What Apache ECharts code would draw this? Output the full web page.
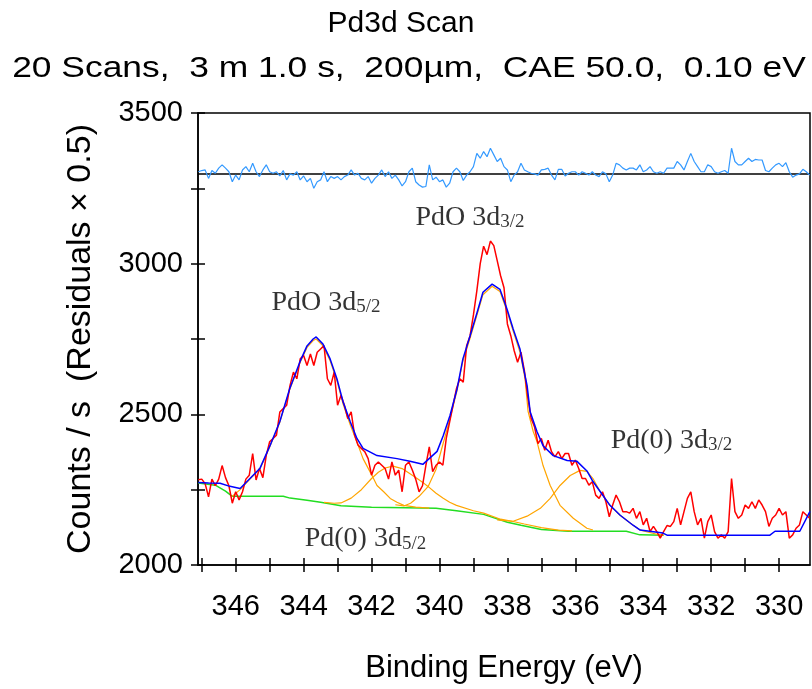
<!DOCTYPE html>
<html><head><meta charset="utf-8">
<script src="https://cdn.jsdelivr.net/npm/echarts@6/dist/echarts.min.js"></script>
<style>html,body{margin:0;padding:0;background:#fff}#c{width:812px;height:689px}</style>
</head><body><div id="c"></div>
<script>
// ---- data ----
const energyStart = 347.1;   // eV, first channel
const energyStep = 0.1;      // eV per channel (0.10 eV step)
const rawCounts = [2283,2285,2270,2226,2285,2263,2285,2330,2290,2263,
2205,2243,2216,2243,2285,2298,2370,2282,2320,2290,
2364,2409,2420,2431,2508,2519,2530,2596,2640,2618,
2684,2695,2662,2700,2662,2706,2717,2728,2618,2596,
2640,2530,2563,2530,2486,2508,2431,2398,2387,2376,
2353,2298,2331,2342,2331,2320,2285,2342,2298,2315,
2243,2331,2342,2315,2285,2243,2263,2331,2392,2310,
2331,2342,2331,2420,2475,2530,2585,2618,2607,2728,
2760,2830,2910,3000,3058,3030,3075,3060,3010,2960,
2920,2800,2761,2711,2673,2706,2645,2557,2486,2458,
2403,2420,2381,2414,2376,2359,2376,2353,2370,2370,
2331,2348,2320,2287,2287,2265,2276,2232,2221,2243,
2210,2160,2199,2232,2210,2177,2177,2172,2188,2155,
2177,2133,2155,2111,2128,2111,2089,2111,2131,2128,
2144,2188,2133,2177,2221,2243,2177,2133,2155,2089,
2144,2166,2111,2089,2100,2089,2111,2287,2177,2155,
2166,2199,2188,2210,2188,2216,2199,2177,2128,2155,
2166,2188,2166,2177,2089,2100,2122,2133,2177,2166,2155];
const residuals = [3305,3309,3311,3283,3309,3300,3317,3328,3317,3305,
3272,3294,3278,3311,3322,3305,3333,3305,3289,3311,
3328,3305,3300,3305,3291,3309,3278,3298,3294,3305,
3278,3291,3272,3283,3250,3272,3278,3305,3272,3289,
3283,3289,3278,3289,3294,3311,3294,3300,3283,3278,
3289,3267,3283,3294,3311,3289,3305,3283,3294,3278,
3258,3272,3305,3317,3272,3261,3254,3256,3328,3278,
3287,3272,3278,3254,3267,3305,3317,3305,3276,3294,
3305,3322,3366,3350,3372,3355,3383,3361,3339,3350,
3322,3311,3272,3294,3305,3333,3311,3305,3300,3298,
3294,3311,3313,3317,3294,3278,3313,3313,3291,3300,
3305,3305,3294,3305,3300,3294,3305,3294,3289,3305,
3298,3272,3294,3333,3328,3317,3311,3317,3317,3311,
3328,3305,3311,3322,3305,3300,3305,3300,3317,3317,
3317,3339,3328,3311,3339,3366,3339,3322,3305,3305,
3328,3322,3305,3300,3305,3309,3300,3383,3339,3328,
3328,3339,3350,3339,3346,3344,3344,3309,3305,3317,
3328,3333,3322,3335,3305,3287,3294,3298,3313,3305,3294];
const residualZero = 3300;
const envelope = [[347.1,2274],[346.8,2272],[346.46,2271],[346.17,2261],[345.87,2254],[345.58,2287],[345.29,2320],[344.99,2396],[344.70,2476],[344.41,2585],[344.11,2674],[343.90,2727],[343.72,2750],[343.63,2757],[343.43,2733],[343.22,2684],[343.02,2618],[342.84,2542],[342.63,2476],[342.43,2420],[342.25,2387],[341.84,2363],[341.25,2353],[340.87,2344],[340.49,2334],[340.07,2377],[339.89,2429],[339.69,2496],[339.48,2585],[339.31,2684],[339.10,2760],[338.89,2839],[338.72,2905],[338.45,2932],[338.22,2915],[338.01,2849],[337.83,2783],[337.63,2717],[337.54,2661],[337.42,2595],[337.33,2509],[337.13,2443],[336.95,2396],[336.65,2363],[336.24,2347],[335.95,2344],[335.65,2311],[335.48,2277],[335.27,2244],[334.98,2198],[334.68,2165],[334.30,2132],[334.09,2116],[333.42,2106],[333.30,2099],[330.27,2099],[330.12,2112],[329.39,2112],[329.09,2178]];
const pdo52 = [[346.1,2228],[345.87,2250],[345.58,2285],[345.29,2318],[344.99,2394],[344.70,2474],[344.41,2582],[344.11,2670],[343.90,2722],[343.72,2745],[343.63,2750],[343.43,2727],[343.22,2678],[343.02,2612],[342.84,2535],[342.63,2466],[342.43,2408],[342.25,2353],[342.0,2300],[341.84,2264],[341.65,2244],[341.45,2221],[341.25,2208],[341.05,2198],[340.7,2192],[340.3,2189]];
const pd052 = [[343.4,2208],[343.1,2205],[342.9,2206],[342.6,2222],[342.3,2250],[342.0,2287],[341.8,2308],[341.6,2322],[341.37,2328],[341.1,2320],[340.9,2305],[340.7,2290],[340.5,2275],[340.33,2260],[340.1,2238],[339.9,2222],[339.7,2208],[339.5,2198],[339.0,2180],[338.7,2172],[338.2,2152],[337.9,2146],[337.5,2136],[337.0,2124],[336.5,2116],[336.1,2113]];
const pdo32 = [[341.3,2200],[341.05,2196],[340.85,2205],[340.6,2228],[340.33,2261],[340.1,2318],[339.9,2400],[339.69,2486],[339.48,2580],[339.31,2678],[339.10,2752],[338.89,2832],[338.72,2897],[338.45,2925],[338.22,2908],[338.01,2842],[337.83,2776],[337.63,2707],[337.48,2618],[337.39,2509],[337.24,2443],[337.13,2410],[336.95,2330],[336.74,2264],[336.45,2198],[336.06,2155],[335.66,2122],[335.48,2116]];
const pd032 = [[338.3,2150],[337.83,2145],[337.42,2162],[337.03,2188],[336.74,2221],[336.45,2264],[336.15,2297],[335.86,2314],[335.66,2311],[335.48,2287],[335.27,2244],[334.98,2198],[334.68,2165],[334.30,2132],[334.09,2116],[333.6,2102],[333.4,2099]];
const background = [[347.1,2272],[346.6,2265],[346.3,2245],[346.1,2228],[344.6,2228],[344.4,2222],[343.9,2215],[343.5,2208],[342.9,2197],[342.0,2192],[341.0,2190],[340.1,2188],[339.5,2180],[338.7,2168],[338.0,2142],[337.6,2132],[337.0,2118],[336.2,2112],[334.5,2112],[334.1,2100],[333.4,2099]];
const xTickValues = [347,346,345,344,343,342,341,340,339,338,337,336,335,334,333,332,331,330];
const xLabelValues = [346,344,342,340,338,336,334,332,330];
const yLabelValues = [2000,2500,3000,3500];
const peakLabelMain = ['PdO 3d','PdO 3d','Pd(0) 3d','Pd(0) 3d'];
const peakLabelSub = ['5/2','3/2','3/2','5/2'];
const peakLabelPos = [[343.34,2872],[339.10,3153],[333.17,2413],[342.18,2086]];
const titleText = 'Pd3d Scan';
const subtitleText = '20 Scans,  3 m 1.0 s,  200\u00b5m,  CAE 50.0,  0.10 eV';

// ---- chart ----
const SANS = "'Liberation Sans', Arial, sans-serif";
const SERIF = "'Liberation Serif', 'Times New Roman', serif";
const rawData = rawCounts.map((v, i) => [+(energyStart - i * energyStep).toFixed(2), v]);
const residData = residuals.map((v, i) => [+(energyStart - i * energyStep).toFixed(2), v]);
const XMIN = 329.09, XMAX = 347.11;

const chart = echarts.init(document.getElementById('c'), null, {renderer: 'canvas'});
const lineS = (name, data, color, width, z) => ({
  name, type: 'line', data, showSymbol: false, symbol: 'none', z,
  lineStyle: {color, width}, itemStyle: {color}, silent: true, animation: false
});
const axisX = (inside) => ({
  type: 'value', min: XMIN, max: XMAX, inverse: true, gridIndex: 0, position: 'bottom',
  axisLine: {show: !inside, onZero: false, lineStyle: {color: '#000', width: 1.5}},
  axisTick: {show: true, inside, length: 7, customValues: xTickValues, lineStyle: {color: '#000', width: 1.5}},
  axisLabel: inside ? {show: false} : {show: true, customValues: xLabelValues, fontSize: 29, fontFamily: SANS, color: '#000', margin: 27, formatter: (v) => String(v)},
  splitLine: {show: false},
  name: inside ? '' : 'Binding Energy (eV)', nameLocation: 'middle', nameGap: 88,
  nameTextStyle: {fontSize: 31, fontFamily: SANS, color: '#000'}
});
const axisY = (inside) => ({
  type: 'value', min: 2000, max: 3500, interval: 250, gridIndex: 0, position: 'left',
  axisLine: {show: !inside, onZero: false, lineStyle: {color: '#000', width: 1.5}},
  axisTick: {show: true, inside, length: 7, lineStyle: {color: '#000', width: 1.5}},
  axisLabel: inside ? {show: false} : {show: true, customValues: yLabelValues, fontSize: 29, fontFamily: SANS, color: '#000', margin: 15, formatter: (v) => String(v)},
  splitLine: {show: false},
  name: inside ? '' : 'Counts / s  (Residuals \u00d7 0.5)', nameLocation: 'middle', nameGap: 100,
  nameTextStyle: {fontSize: 34, fontFamily: SANS, color: '#000'}
});

chart.setOption({
  animation: false,
  backgroundColor: '#fff',
  grid: {left: 198, top: 113, width: 612, height: 454, show: true, borderColor: '#000', borderWidth: 1.5, backgroundColor: 'transparent'},
  xAxis: [axisX(false), axisX(true)],
  yAxis: [axisY(false), axisY(true)],
  graphic: [
    {type: 'text', x: 401, y: 24, style: {text: titleText, fontSize: 30, fontFamily: SANS, fill: '#000', align: 'center', verticalAlign: 'middle'}},
    {type: 'text', x: 409, y: 69, scaleX: 1.18, style: {text: subtitleText, fontSize: 30, fontFamily: SANS, fill: '#000', align: 'center', verticalAlign: 'middle'}}
  ],
  series: [
    lineS('Background', background, '#22dd22', 1.5, 2),
    lineS('PdO 3d5/2', pdo52, '#ffa500', 1.2, 3),
    lineS('Pd(0) 3d5/2', pd052, '#ffa500', 1.2, 3),
    lineS('PdO 3d3/2', pdo32, '#ffa500', 1.2, 3),
    lineS('Pd(0) 3d3/2', pd032, '#ffa500', 1.2, 3),
    lineS('Data', rawData, '#ff0000', 1.5, 4),
    lineS('Envelope', envelope, '#0000ff', 1.5, 5),
    Object.assign(lineS('Residuals', residData, '#3399ff', 1.2, 6), {
      markLine: {silent: true, symbol: ['none', 'none'], label: {show: false}, animation: false,
        lineStyle: {color: '#000', width: 1.5, type: 'solid'}, data: [{yAxis: residualZero}]}
    }),
    {
      type: 'scatter', name: 'labels', symbolSize: 0, silent: true, z: 10,
      data: peakLabelPos.map((p) => ({value: p})),
      label: {
        show: true, position: 'inside', color: '#000',
        formatter: (p) => '{m|' + peakLabelMain[p.dataIndex] + '}{s|' + peakLabelSub[p.dataIndex] + '}',
        rich: {
          m: {fontSize: 28, lineHeight: 28, fontFamily: SERIF, color: '#000'},
          s: {fontSize: 19, lineHeight: 19, fontFamily: SERIF, color: '#000', verticalAlign: 'bottom'}
        }
      }
    }
  ]
});
</script>
</body></html>
